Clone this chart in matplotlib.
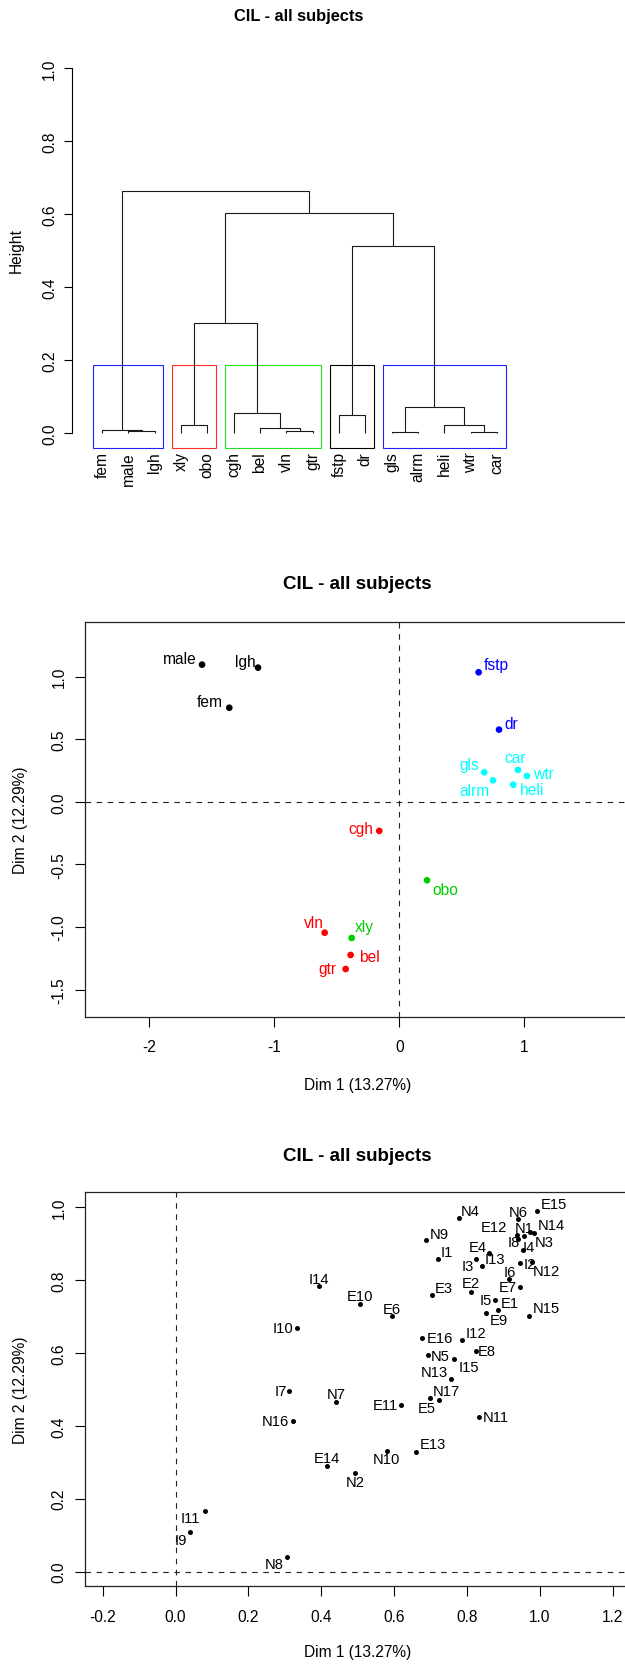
import matplotlib
matplotlib.use("Agg")
import matplotlib.pyplot as plt
from matplotlib.patches import Rectangle
from matplotlib.ticker import FormatStrFormatter
import numpy as np

plt.rcParams['font.family'] = ['Liberation Sans', 'DejaVu Sans']

W, H, DPI = 625, 1665, 100
TITLE = "CIL - all subjects"

# ---------------- hierarchical clustering of categories ----------------
leaf_labels = ['fem', 'male', 'lgh', 'xly', 'obo', 'cgh', 'bel', 'vln', 'gtr',
               'fstp', 'dr', 'gls', 'alrm', 'heli', 'wtr', 'car']
# R-style merge table: negative = leaf (1-based, in display order), positive = earlier merge
merge_left = [-2, -1, -4, -8, -7, -6, 3, -10, -12, -15, -14, 9, 8, 7, 2]
merge_right = [-3, 1, -5, -9, 4, 5, 6, -11, -13, -16, 10, 11, 12, 13, 14]
merge_height = [0.005, 0.009, 0.022, 0.005, 0.014, 0.056, 0.301, 0.048,
                0.004, 0.003, 0.022, 0.071, 0.511, 0.604, 0.664]
cluster_sizes = [3, 2, 4, 2, 5]
cluster_colors = ['#2020ff', '#ff2a2a', '#22e022', 'black', '#2020ff']

# ---------------- categories on the factor map ----------------
cat_labels = ['male', 'lgh', 'fem', 'fstp', 'dr', 'gls', 'alrm', 'car', 'wtr', 'heli',
              'cgh', 'obo', 'vln', 'xly', 'bel', 'gtr']
cat_dim1 = [-1.578, -1.130, -1.360, 0.635, 0.798, 0.680, 0.750, 0.950, 1.022, 0.912,
            -0.160, 0.222, -0.597, -0.381, -0.389, -0.429]
cat_dim2 = [1.096, 1.072, 0.752, 1.035, 0.577, 0.236, 0.172, 0.255, 0.207, 0.137,
            -0.232, -0.626, -1.045, -1.087, -1.223, -1.335]
cat_group = [0, 0, 0, 1, 1, 2, 2, 2, 2, 2, 3, 4, 3, 4, 3, 3]
group_colors = ['black', '#0000ff', '#00ffff', '#ff0000', '#00cd00']
# label offsets in pixels (dx right, dy down)
cat_offsets = [(-22, -6.3), (-13, -6), (-20, -6.3), (17.3, -7.7), (11.7, -6.3),
               (-15, -8.3), (-19, 10), (-2.7, -12.3), (16.7, -2.7), (19.3, 4.7),
               (-18.7, -2), (18, 9), (-11, -9.7), (13, -11.3), (18.3, 1.7), (-18, 0)]

# ---------------- individuals on the factor map ----------------
ind_labels = ['E1', 'E2', 'E3', 'E4', 'E5', 'E6', 'E7', 'E8', 'E9', 'E10', 'E11', 'E12',
              'E13', 'E14', 'E15', 'E16',
              'I1', 'I2', 'I3', 'I4', 'I5', 'I6', 'I7', 'I8', 'I9', 'I10', 'I11', 'I12',
              'I13', 'I14', 'I15',
              'N1', 'N2', 'N3', 'N4', 'N5', 'N6', 'N7', 'N8', 'N9', 'N10', 'N11', 'N12',
              'N13', 'N14', 'N15', 'N16', 'N17']
ind_dim1 = [0.885, 0.812, 0.704, 0.862, 0.698, 0.593, 0.947, 0.824, 0.853, 0.507, 0.619, 0.938,
            0.660, 0.415, 0.992, 0.678,
            0.721, 0.946, 0.825, 0.953, 0.876, 0.915, 0.312, 0.940, 0.039, 0.333, 0.080, 0.787,
            0.841, 0.393, 0.765,
            0.957, 0.493, 0.983, 0.777, 0.692, 0.940, 0.441, 0.307, 0.689, 0.580, 0.834, 0.978,
            0.756, 0.974, 0.971, 0.323, 0.723]
ind_dim2 = [0.717, 0.767, 0.758, 0.873, 0.475, 0.702, 0.780, 0.606, 0.710, 0.735, 0.457, 0.924,
            0.329, 0.291, 0.990, 0.640,
            0.856, 0.846, 0.858, 0.883, 0.745, 0.802, 0.495, 0.912, 0.108, 0.667, 0.167, 0.634,
            0.838, 0.782, 0.583,
            0.921, 0.270, 0.929, 0.970, 0.593, 0.967, 0.466, 0.041, 0.908, 0.330, 0.425, 0.848,
            0.527, 0.931, 0.702, 0.414, 0.471]
ind_offsets = {
    'E1': (11.7, -7.3), 'E2': (0, -8.7), 'E3': (12, -6.7), 'E4': (-11.7, -6.7),
    'E5': (-3, 9.3), 'E6': (0, -7), 'E7': (-12.7, 0), 'E8': (11, 0), 'E9': (12.7, 7.3),
    'E10': (0, -8), 'E11': (-16, 0), 'E12': (-22.8, -7.7), 'E13': (17.3, -7.3),
    'E14': (0, -8), 'E15': (16.7, -6.7), 'E16': (17, 0),
    'I1': (8.3, -7), 'I2': (9.3, 0.9), 'I3': (-8.7, 7.3), 'I4': (6.4, -2.6),
    'I5': (-8.7, 0), 'I6': (0.7, -7.3), 'I7': (-8.7, 0), 'I8': (-4.6, 3.3),
    'I9': (-9, 7.7), 'I10': (-13.7, 0), 'I11': (-14, 7), 'I12': (14, -7.3),
    'I13': (13, -7), 'I14': (0, -7), 'I15': (14.3, 8),
    'N1': (0, -8.2), 'N2': (0, 9), 'N3': (10.5, 9.5), 'N4': (12, -6.7), 'N5': (13, 0.7),
    'N6': (0, -6.7), 'N7': (0, -8), 'N8': (-13, 7.3), 'N9': (13, -6.3), 'N10': (0, 8),
    'N11': (16.7, 0), 'N12': (15, 8.7), 'N13': (-17, -7.3), 'N14': (20.8, -7.1),
    'N15': (17.3, -7.7), 'N16': (-17.7, 0), 'N17': (8, -9),
}
axis1_label = "Dim 1 (13.27%)"
axis2_label = "Dim 2 (12.29%)"

PT = 72.0 / DPI  # points per pixel

fig = plt.figure(figsize=(W / DPI, H / DPI), dpi=DPI)


def px_axes(left, top, right, bottom):
    return fig.add_axes([left / W, 1 - bottom / H, (right - left) / W, (bottom - top) / H])


def fig_text(x, y, s, **kw):
    fig.text(x / W, 1 - y / H, s, **kw)


def style_yticklabels(ax):
    for t in ax.get_yticklabels():
        t.set_rotation(90)
        t.set_va('center')
        t.set_ha('right')


# ======================= panel 1: dendrogram =======================
ax1 = px_axes(71.7, 54.4, 512.8, 448.6)
ax1.set_xlim(-0.151, 16.6)
ax1.set_ylim(-0.04, 1.04)

nodes = {}


def node_pos(i):
    if i < 0:
        return float(-i), 0.0
    return nodes[i]


for k, (a, b, h) in enumerate(zip(merge_left, merge_right, merge_height), start=1):
    xa, ha = node_pos(a)
    xb, hb = node_pos(b)
    ax1.plot([xa, xa, xb, xb], [ha, h, h, hb], color='#1a1a1a', lw=0.8,
             solid_capstyle='butt')
    nodes[k] = ((xa + xb) / 2.0, h)

heights_sorted = sorted(merge_height, reverse=True)
n_clusters = len(cluster_sizes)
cut = (heights_sorted[n_clusters - 1] + heights_sorted[n_clusters - 2]) / 2.0
first = 1
for size, col in zip(cluster_sizes, cluster_colors):
    ax1.add_patch(Rectangle((first - 0.34, -0.04), size - 1 + 0.67, cut + 0.04,
                            fill=False, edgecolor=col, lw=0.8, clip_on=False))
    first += size

for i, lbl in enumerate(leaf_labels, start=1):
    ax1.annotate(lbl, (i, 0), xytext=(0, -18 * PT), textcoords='offset points',
                 rotation=90, ha='center', va='top', fontsize=11.2)

for side in ['top', 'right', 'bottom']:
    ax1.spines[side].set_visible(False)
ax1.spines['left'].set_bounds(0, 1)
ax1.spines['left'].set_linewidth(0.8)
ax1.set_xticks([])
ax1.set_yticks(np.round(np.arange(0, 1.01, 0.2), 1))
ax1.yaxis.set_major_formatter(FormatStrFormatter('%.1f'))
ax1.tick_params(axis='y', length=8.4 * PT, width=0.8, pad=4.6, labelsize=11.2)
style_yticklabels(ax1)
ax1.patch.set_visible(False)

fig_text(299, 17, TITLE, ha='center', va='center', fontsize=11.8, fontweight='bold')
fig_text(16.7, 251, "Height", rotation=90, ha='center', va='center', fontsize=11.2)


def factor_axes(top, bottom, xlim, ylim):
    ax = px_axes(85.3, top, 630, bottom)
    ax.set_xlim(*xlim)
    ax.set_ylim(*ylim)
    ax.axhline(0, color='#222222', lw=0.8, ls=(0, (5, 5)))
    ax.axvline(0, color='#222222', lw=0.8, ls=(0, (5, 5)))
    for sp in ax.spines.values():
        sp.set_linewidth(0.9)
        sp.set_color('#222222')
    ax.tick_params(axis='both', length=10 * PT, width=0.8, labelsize=11.2)
    ax.tick_params(axis='x', pad=9.0)
    ax.tick_params(axis='y', pad=6.4)
    return ax


# ======================= panel 2: categories =======================
ax2 = factor_axes(622.7, 1017.7, (-2.512, 1.846), (-1.716, 1.439))
ax2.set_xticks([-2, -1, 0, 1])
ax2.xaxis.set_major_formatter(FormatStrFormatter('%d'))
ax2.set_yticks([-1.5, -1.0, -0.5, 0.0, 0.5, 1.0])
ax2.yaxis.set_major_formatter(FormatStrFormatter('%.1f'))
style_yticklabels(ax2)
cat_cols = [group_colors[g] for g in cat_group]
ax2.scatter(cat_dim1, cat_dim2, s=(4.8) ** 2, c=cat_cols, linewidths=0, zorder=3)
for lbl, x, y, col, (dx, dy) in zip(cat_labels, cat_dim1, cat_dim2, cat_cols, cat_offsets):
    ax2.annotate(lbl, (x, y), xytext=(dx * PT, -dy * PT), textcoords='offset points',
                 ha='center', va='center', fontsize=11.2, color=col)

fig_text(357.7, 585, TITLE, ha='center', va='center', fontsize=13.5, fontweight='bold')
fig_text(357.7, 1085.7, axis1_label, ha='center', va='center', fontsize=11.2)
fig_text(21, 820, axis2_label, rotation=90, ha='center', va='center', fontsize=11.2)

# ======================= panel 3: individuals =======================
ax3 = factor_axes(1193.3, 1587.3, (-0.248, 1.248), (-0.04, 1.04))
ax3.set_xticks(np.round(np.arange(-0.2, 1.21, 0.2), 1))
ax3.xaxis.set_major_formatter(FormatStrFormatter('%.1f'))
ax3.set_yticks(np.round(np.arange(0, 1.01, 0.2), 1))
ax3.yaxis.set_major_formatter(FormatStrFormatter('%.1f'))
style_yticklabels(ax3)
ax3.scatter(ind_dim1, ind_dim2, s=(3.6) ** 2, c='black', linewidths=0, zorder=3)
for lbl, x, y in zip(ind_labels, ind_dim1, ind_dim2):
    dx, dy = ind_offsets[lbl]
    ax3.annotate(lbl, (x, y), xytext=(dx * PT, -dy * PT), textcoords='offset points',
                 ha='center', va='center', fontsize=10.6, color='black')

fig_text(357.7, 1157, TITLE, ha='center', va='center', fontsize=13.5, fontweight='bold')
fig_text(357.7, 1653, axis1_label, ha='center', va='center', fontsize=11.2)
fig_text(21, 1390.3, axis2_label, rotation=90, ha='center', va='center', fontsize=11.2)

fig.savefig('out.png', dpi=DPI)
